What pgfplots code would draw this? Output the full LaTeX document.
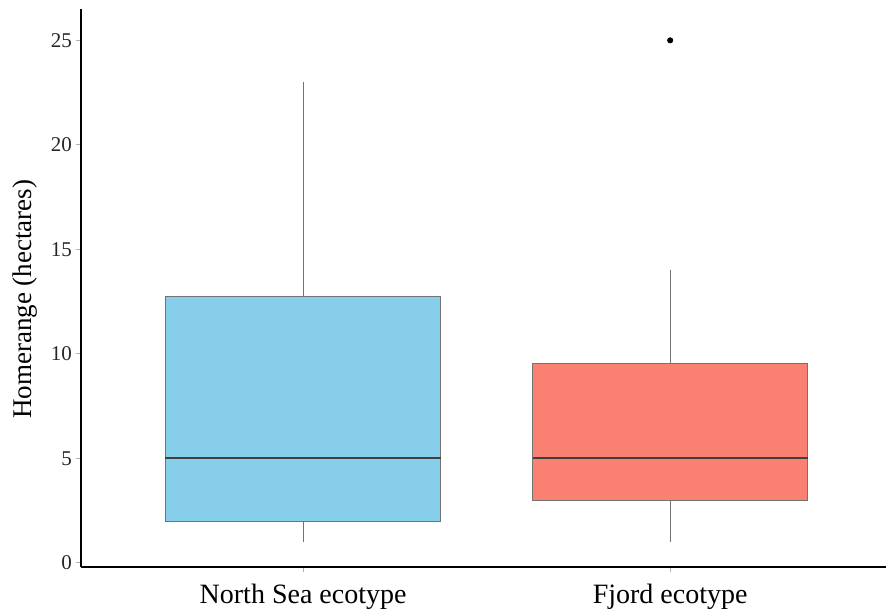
\documentclass[border=0pt]{standalone}
\usepackage{fontspec}
\setmainfont{Liberation Serif}
\usepackage{pgfplots}
\pgfplotsset{compat=1.18}
\usepgfplotslibrary{statistics}
\definecolor{skyblue}{HTML}{87CEEB}
\definecolor{salmon}{HTML}{FA8072}
\begin{document}
\begin{tikzpicture}
\begin{axis}[
  at={(0,0)}, anchor=south west,
  scale only axis,
  width=402.5pt, height=279pt,
  xmin=0.395, xmax=2.588, ymin=-0.2, ymax=26.5,
  axis lines*=left,
  axis line style={black, line width=1.3pt},
  xtick={1,2}, xticklabels={North Sea ecotype, Fjord ecotype},
  ytick={0,5,10,15,20,25},
  tick align=outside,
  major tick length=2.5pt,
  tick style={draw=gray!60, line width=0.5pt},
  /pgf/number format/assume math mode=true,
  yticklabel style={font=\fontsize{10.5}{12}\selectfont, text=black!85, xshift=1.5pt},
  xticklabel style={font=\fontsize{14}{16}\selectfont, text=black, yshift=-2.5pt},
  ylabel={Homerange (hectares)},
  ylabel style={font=\fontsize{13.5}{16}\selectfont, at={(axis description cs:-0.07,0.48)}, anchor=center},
  boxplot/draw direction=y,
  clip=false,
]
\addplot[fill=skyblue, draw=black!55, line width=0.5pt,
  boxplot prepared={median=5, upper quartile=12.76, lower quartile=2,
    upper whisker=23, lower whisker=1, draw position=1, box extend=0.75,
    whisker extend=0},
  boxplot/every whisker/.style={draw=black!55, line width=0.5pt},
  boxplot/every median/.style={draw=black!75, line width=0.9pt}
] coordinates {};
\addplot[fill=salmon, draw=black!55, line width=0.5pt,
  boxplot prepared={median=5, upper quartile=9.52, lower quartile=3,
    upper whisker=14, lower whisker=1, draw position=2, box extend=0.75,
    whisker extend=0},
  boxplot/every whisker/.style={draw=black!55, line width=0.5pt},
  boxplot/every median/.style={draw=black!75, line width=0.9pt}
] coordinates {};
\addplot[only marks, mark=*, mark size=1.3pt, black] coordinates {(2,25)};
\end{axis}
\pgfresetboundingbox
\path[use as bounding box] (-40.5pt,-21.5pt) rectangle (402.5pt,283.5pt);
\end{tikzpicture}
\end{document}
